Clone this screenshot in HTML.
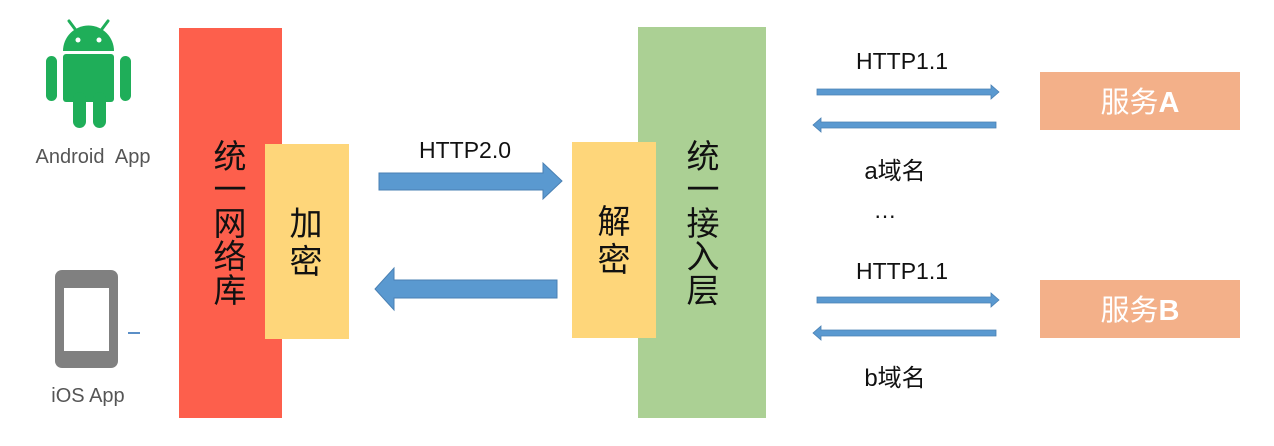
<!DOCTYPE html>
<html><head><meta charset="utf-8"><style>
html,body{margin:0;padding:0;background:#fff;width:1274px;height:446px;overflow:hidden}
svg{display:block}
text{font-family:"Liberation Sans","Noto Sans CJK SC",sans-serif}
</style></head><body>
<svg width="1274" height="446" viewBox="0 0 1274 446" xmlns="http://www.w3.org/2000/svg">
<!-- Android -->
<g fill="#1fae59">
<path d="M63,51 A25.5,25.5 0 0 1 114,51 Z"/>
<line x1="69" y1="21" x2="75" y2="29" stroke="#1fae59" stroke-width="3" stroke-linecap="round"/>
<line x1="108" y1="21" x2="102" y2="29" stroke="#1fae59" stroke-width="3" stroke-linecap="round"/>
<rect x="63" y="54" width="51" height="48" rx="3"/>
<rect x="46" y="56" width="11" height="45" rx="5.5"/>
<rect x="120" y="56" width="11" height="45" rx="5.5"/>
<rect x="73" y="92" width="13" height="36" rx="6.5"/>
<rect x="93" y="92" width="13" height="36" rx="6.5"/>
</g>
<circle cx="78" cy="40" r="2.5" fill="#fff"/><circle cx="99" cy="40" r="2.5" fill="#fff"/>
<text x="93" y="163" font-size="20" fill="#555" text-anchor="middle" word-spacing="6">Android App</text>
<!-- iOS device -->
<rect x="55" y="270" width="63" height="98" rx="7" fill="#808080"/>
<rect x="64" y="288" width="45" height="63" fill="#fff"/>
<rect x="128" y="332" width="12" height="2" fill="#5b8fc7"/>
<text x="88" y="402" font-size="20" fill="#555" text-anchor="middle">iOS App</text>
<!-- red library -->
<rect x="179" y="28" width="103" height="390" fill="#fd5f4c"/>
<rect x="265" y="144" width="84" height="195" fill="#fed67a"/>
<g font-size="33" fill="#111" text-anchor="middle">
<text x="230" y="168">统</text><text x="230" y="201">一</text><text x="230" y="235">网</text><text x="230" y="268">络</text><text x="230" y="302">库</text>
<text x="306" y="235">加</text><text x="306" y="273">密</text>
</g>
<!-- middle arrows -->
<text x="465" y="158" font-size="23" fill="#111" text-anchor="middle">HTTP2.0</text>
<path d="M379,173 H543 V163 L562,181 L543,199 V190 H379 Z" fill="#5a99d0" stroke="#4a80b3" stroke-width="1"/>
<path d="M557,280 H394 V268 L375,289 L394,310 V298 H557 Z" fill="#5a99d0" stroke="#4a80b3" stroke-width="1"/>
<!-- green layer -->
<rect x="638" y="27" width="128" height="391" fill="#abd094"/>
<rect x="572" y="142" width="84" height="196" fill="#fed67a"/>
<g font-size="33" fill="#111" text-anchor="middle">
<text x="703" y="168">统</text><text x="703" y="201">一</text><text x="703" y="235">接</text><text x="703" y="268">入</text><text x="703" y="302">层</text>
<text x="614" y="233">解</text><text x="614" y="271">密</text>
</g>
<!-- right arrows -->
<g font-size="23" fill="#111" text-anchor="middle">
<text x="902" y="69">HTTP1.1</text>
<text x="895" y="179" font-size="24">a域名</text>
<text x="885" y="218">…</text>
<text x="902" y="279">HTTP1.1</text>
<text x="895" y="386" font-size="24">b域名</text>
</g>
<g fill="#5a99d0" stroke="#4a80b3" stroke-width="0.8">
<path d="M817,89 H991 V85 L999,92 L991,99 V95 H817 Z"/>
<path d="M996,122 H821 V118 L813,125 L821,132 V128 H996 Z"/>
<path d="M817,297 H991 V293 L999,300 L991,307 V303 H817 Z"/>
<path d="M996,330 H821 V326 L813,333 L821,340 V336 H996 Z"/>
</g>
<!-- services -->
<rect x="1040" y="72" width="200" height="58" fill="#f3b089"/>
<rect x="1040" y="280" width="200" height="58" fill="#f3b089"/>
<text x="1140" y="112" font-size="29" fill="#fff" text-anchor="middle">服务<tspan font-weight="bold">A</tspan></text>
<text x="1140" y="320" font-size="29" fill="#fff" text-anchor="middle">服务<tspan font-weight="bold">B</tspan></text>
</svg>
</body></html>
